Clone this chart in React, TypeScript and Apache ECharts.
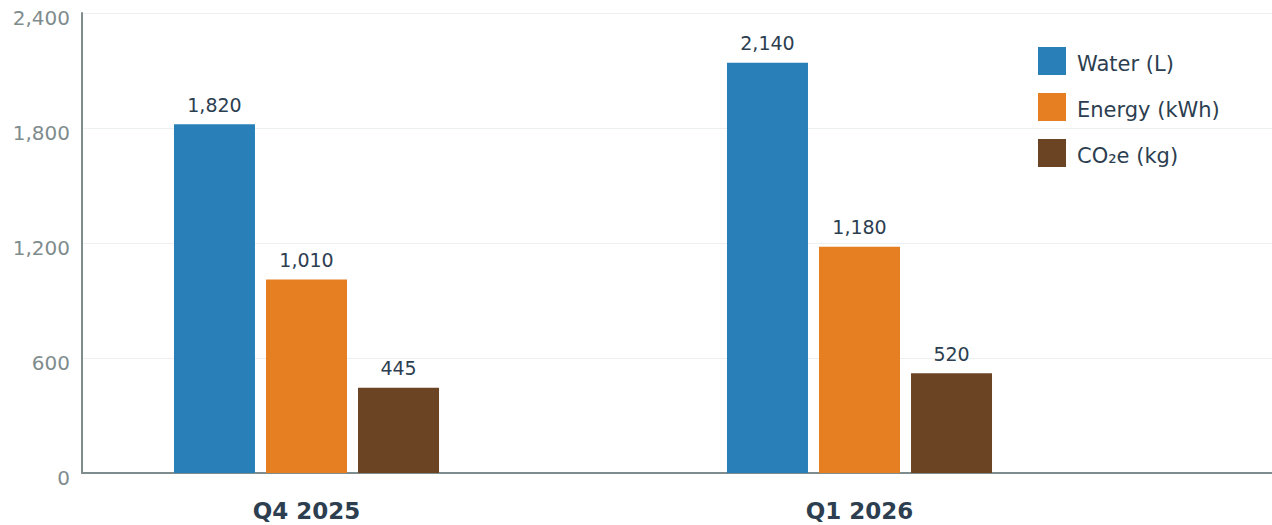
import React, { useEffect, useRef } from "react";
import * as echarts from "echarts";

const categories = ["Q4 2025", "Q1 2026"];
const waterL = [1820, 2140];
const energyKWh = [1010, 1180];
const co2eKg = [445, 520];
const seriesNames = ["Water (L)", "Energy (kWh)", "CO₂e (kg)"];
const colors = ["#2980b9", "#e67e22", "#6b4423"];
const yMin = 0;
const yMax = 2400;
const yInterval = 600;

const FONT = "DejaVu Sans";
const fmt = (v: number) => Number(v).toLocaleString("en-US");

export default function App() {
  const ref = useRef<HTMLDivElement>(null);
  useEffect(() => {
    if (!ref.current) return;
    const chart = echarts.init(ref.current, undefined, { renderer: "svg" });
    const values = [waterL, energyKWh, co2eKg];
    chart.setOption({
      animation: false,
      textStyle: { fontFamily: FONT },
      grid: [
        { left: 82, right: 0, top: 13, bottom: 52 },
        { left: 30, right: 136, top: 13, bottom: 52 },
      ],
      legend: {
        orient: "vertical",
        left: 1038,
        top: 47,
        padding: 0,
        itemWidth: 28,
        itemHeight: 28,
        itemGap: 18,
        icon: "rect",
        data: seriesNames,
        formatter: (name: string) => `{t|${name}}`,
        textStyle: {
          fontFamily: FONT,
          fontSize: 21,
          color: "#2c3e50",
          rich: {
            t: {
              fontFamily: FONT,
              fontSize: 21,
              color: "#2c3e50",
              padding: [6, 0, 0, 6],
            },
          },
        },
      },
      xAxis: [
        {
          gridIndex: 0,
          type: "category",
          data: categories,
          axisLine: { show: true, lineStyle: { color: "#7f8c8d", width: 2 } },
          axisTick: { show: false },
          axisLabel: { show: false },
          splitLine: { show: false },
        },
        {
          gridIndex: 1,
          type: "category",
          data: categories,
          axisLine: { show: false },
          axisTick: { show: false },
          axisLabel: {
            margin: 26,
            fontFamily: FONT,
            fontSize: 23,
            fontWeight: "bold",
            color: "#2c3e50",
          },
        },
      ],
      yAxis: [
        {
          gridIndex: 0,
          type: "value",
          min: yMin,
          max: yMax,
          interval: yInterval,
          axisLine: { show: true, lineStyle: { color: "#7f8c8d", width: 2 } },
          axisTick: { show: false },
          axisLabel: {
            margin: 12,
            verticalAlign: "top",
            lineHeight: 9,
            fontFamily: FONT,
            fontSize: 20,
            color: "#7f8c8d",
            formatter: (v: number) => fmt(v),
          },
          splitLine: { show: true, lineStyle: { color: "#ecf0f1", width: 1 } },
        },
        {
          gridIndex: 1,
          type: "value",
          min: yMin,
          max: yMax,
          interval: yInterval,
          show: false,
          splitLine: { show: false },
        },
      ],
      series: seriesNames.map((name, i) => ({
        name,
        type: "bar",
        xAxisIndex: 1,
        yAxisIndex: 1,
        data: values[i],
        barWidth: 81,
        barGap: "13.6%",
        itemStyle: { color: colors[i] },
        label: {
          show: true,
          position: "top",
          distance: 10,
          fontFamily: FONT,
          fontSize: 19,
          color: "#2c3e50",
          formatter: (p: any) => fmt(p.value),
        },
      })),
    });
    return () => chart.dispose();
  }, []);
  return <div ref={ref} style={{ width: 1272, height: 525, position: "absolute", left: 0, top: 0 }} />;
}
